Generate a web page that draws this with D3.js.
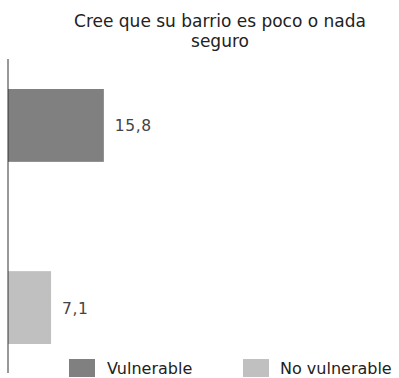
<!DOCTYPE html>
<html>
<head>
<meta charset="utf-8">
<script src="https://cdn.jsdelivr.net/npm/d3@7"></script>
<style>
  html, body { margin: 0; padding: 0; background: #fff; }
  svg { display: block; font-family: "DejaVu Sans", Verdana, sans-serif; }
</style>
</head>
<body>
<svg id="chart" width="399" height="378"></svg>
<script>
const titleLines = ["Cree que su barrio es poco o nada", "seguro"];
const categories = ["Vulnerable", "No vulnerable"];
const values = [15.8, 7.1];
const valueLabels = ["15,8", "7,1"];
const colors = ["#808080", "#c0c0c0"];

const svg = d3.select("#chart");

const x = d3.scaleLinear().domain([0, 60]).range([8, 372]);
const y = d3.scaleBand().domain(categories).range([89, 344]).paddingInner(0.6).paddingOuter(0);
const color = d3.scaleOrdinal().domain(categories).range(colors);

// title
svg.append("text")
  .attr("x", 220).attr("y", 27)
  .attr("text-anchor", "middle")
  .attr("font-size", 17)
  .attr("fill", "#222")
  .selectAll("tspan").data(titleLines).join("tspan")
  .attr("x", 220)
  .attr("dy", (d, i) => i === 0 ? 0 : 20)
  .text(d => d);

// bars
svg.selectAll("rect.bar").data(categories).join("rect")
  .attr("class", "bar")
  .attr("x", x(0))
  .attr("y", d => y(d))
  .attr("width", (d, i) => x(values[i]) - x(0))
  .attr("height", y.bandwidth())
  .attr("fill", d => color(d));

// value labels
svg.selectAll("text.val").data(categories).join("text")
  .attr("class", "val")
  .attr("x", (d, i) => x(values[i]) + 11)
  .attr("y", d => y(d) + y.bandwidth() / 2 + 6)
  .attr("font-size", 15.5)
  .attr("letter-spacing", 0.6)
  .attr("fill", "#444")
  .text((d, i) => valueLabels[i]);

// axis line
svg.append("line")
  .attr("x1", x(0)).attr("x2", x(0))
  .attr("y1", 59).attr("y2", 373)
  .attr("stroke", "#333").attr("stroke-width", 1);

// legend
const legendX = [69, 243];
const lg = svg.selectAll("g.leg").data(categories).join("g")
  .attr("class", "leg")
  .attr("transform", (d, i) => `translate(${legendX[i]},359)`);
lg.append("rect")
  .attr("width", 26).attr("height", 18)
  .attr("fill", d => color(d));
lg.append("text")
  .attr("x", (d, i) => i === 0 ? 38 : 37)
  .attr("y", 15)
  .attr("font-size", 16)
  .attr("fill", "#222")
  .text(d => d);
</script>
</body>
</html>
